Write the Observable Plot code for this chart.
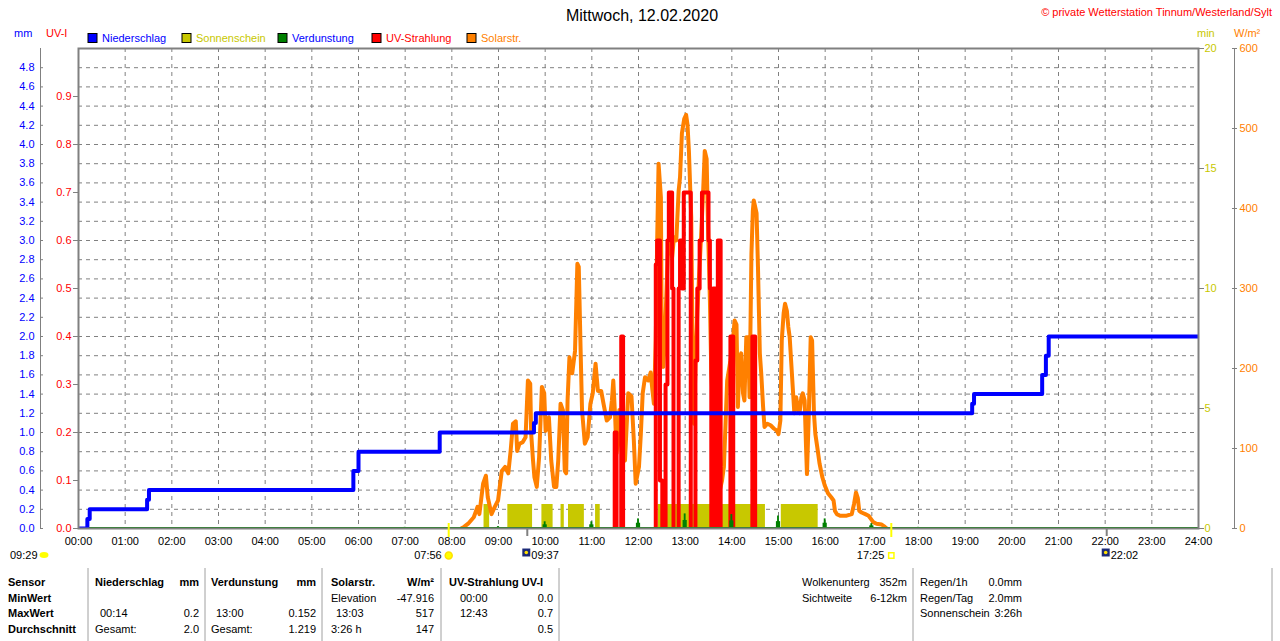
<!DOCTYPE html>
<html><head><meta charset="utf-8">
<script src="https://cdn.jsdelivr.net/npm/d3@7"></script>
<script src="https://cdn.jsdelivr.net/npm/@observablehq/plot@0.6"></script>
<style>
body{margin:0;background:#fff;}
svg text{font-family:"Liberation Sans",Arial,sans-serif;}
</style></head><body><div id="chart"></div>
<script>
// ---------------- data ----------------
const titleText = "Mittwoch, 12.02.2020";
const copyrightText = "© private Wetterstation Tinnum/Westerland/Sylt";

const hourTicks = d3.range(0, 25);
const mmTicks = [0,0.2,0.4,0.6,0.8,1.0,1.2,1.4,1.6,1.8,2.0,2.2,2.4,2.6,2.8,3.0,3.2,3.4,3.6,3.8,4.0,4.2,4.4,4.6,4.8];
const uvTicks = [0,0.1,0.2,0.3,0.4,0.5,0.6,0.7,0.8,0.9];
const minTicks = [0,5,10,15,20];
const wTicks = [0,100,200,300,400,500,600];

// Niederschlag (mm, cumulative, step)
const precipTime = [0, 0.19, 0.24, 1.47, 1.51, 5.89, 6.00, 7.74, 9.76, 9.80, 19.15, 19.19, 20.65, 20.73, 20.79, 24];
const precipMM   = [0, 0.1,  0.2,  0.3,  0.4,  0.6,  0.8,  1.0,  1.1,  1.2,  1.3,   1.4,   1.6,   1.8,   2.0,   2.0];

// Sonnenschein (min)
const sunStart = [8.69, 9.20, 9.93, 10.34, 10.50, 11.08, 11.67, 12.42, 15.06];
const sunEnd   = [8.81, 9.73, 10.17, 10.41, 10.84, 11.18, 11.71, 14.72, 15.85];
const sunMin   = [1, 1, 1, 1, 1, 1, 1, 1, 1];

// Verdunstung (mm per hour)
const evapHour = [1,2,3,4,5,6,7,8,9,10,11,12,13,14,15,16,17,18,19,20,21,22,23];
const evapMM   = [0.01,0.01,0.01,0.01,0.01,0.01,0.012,0.01,0.02,0.07,0.07,0.10,0.152,0.145,0.13,0.10,0.05,0.012,0.01,0.01,0.01,0.01,0.01];

// UV-Strahlung (UV-I, step)
const uvTime = [0, 11.49, 11.53, 11.63, 11.67, 12.37, 12.40, 12.46, 12.51, 12.58, 12.62, 12.65, 12.72, 12.75, 12.86, 12.89, 12.93, 12.97, 13.12, 13.22, 13.26, 13.31, 13.36, 13.50, 13.53, 13.56, 13.60, 13.65, 13.70, 13.76, 13.97, 14.03, 14.44, 14.50, 24];
const uvVal  = [0, 0.2,   0,     0.4,   0,     0.55,  0.6,   0.1,   0,     0.3,   0.6,   0.7,   0.5,   0,     0.5,   0.6,   0.5,   0.7,   0,     0.35,  0.5,   0.6,   0.7,   0.6,   0.5,   0,     0.5,   0,     0.6,   0,     0.4,   0,     0.4,   0,     0];

// Solarstrahlung (W/m²)
const solarTime = [8.20,8.26,8.35,8.47,8.55,8.59,8.67,8.73,8.77,8.85,8.92,8.99,9.07,9.14,9.21,9.26,9.31,9.37,9.40,9.45,9.52,9.58,9.63,9.68,9.70,9.74,9.77,9.82,9.87,9.93,9.98,10.01,10.08,10.13,10.19,10.24,10.28,10.33,10.38,10.42,10.45,10.48,10.52,10.58,10.64,10.69,10.72,10.76,10.79,10.85,10.91,10.97,11.02,11.08,11.13,11.20,11.25,11.32,11.39,11.43,11.46,11.50,11.53,11.57,11.59,11.64,11.71,11.78,11.85,11.90,11.94,12.01,12.05,12.09,12.14,12.21,12.26,12.30,12.33,12.37,12.40,12.43,12.48,12.50,12.53,12.56,12.61,12.64,12.68,12.72,12.76,12.81,12.86,12.89,12.93,12.98,13.02,13.05,13.08,13.13,13.16,13.19,13.22,13.26,13.29,13.34,13.38,13.42,13.46,13.49,13.53,13.56,13.60,13.64,13.69,13.74,13.79,13.83,13.90,13.97,14.01,14.06,14.10,14.13,14.17,14.20,14.24,14.27,14.31,14.35,14.38,14.42,14.45,14.47,14.53,14.56,14.60,14.63,14.67,14.70,14.76,14.83,14.90,14.97,15.00,15.04,15.07,15.11,15.14,15.18,15.21,15.24,15.27,15.31,15.34,15.38,15.41,15.45,15.49,15.52,15.56,15.59,15.61,15.65,15.69,15.72,15.76,15.79,15.83,15.88,15.94,15.99,16.06,16.13,16.18,16.21,16.25,16.32,16.46,16.57,16.62,16.66,16.70,16.73,16.78,16.86,16.93,16.98,17.03,17.10,17.21,17.28,17.32];
const solarW    = [0,2,6,14,27,18,56,66,39,18,27,35,72,77,69,97,131,134,97,106,108,114,185,181,119,85,64,52,89,177,169,122,139,85,52,52,85,156,148,72,69,160,214,194,222,331,327,222,148,106,114,156,169,206,172,172,156,135,139,160,185,139,94,118,148,97,85,169,165,110,56,77,118,169,189,185,195,172,156,235,360,456,414,210,202,231,314,360,360,339,364,360,422,439,494,512,517,505,472,389,222,131,202,269,306,364,414,472,462,377,285,194,148,94,60,47,60,77,185,210,227,260,255,152,214,219,169,160,239,239,164,343,397,410,394,327,219,194,152,127,131,129,125,122,118,135,235,269,281,272,252,239,210,172,144,164,152,144,164,169,160,102,68,144,239,235,144,118,102,81,64,54,44,39,35,22,18,16,16,18,31,45,38,22,20,18,16,12,8,6,5,2,0];

// Markers below the time axis
const sunMarkTime = [7.933, 17.417];
const sunMarkLabel = ["07:56", "17:25"];
const moonMarkTime = [9.617, 22.033];
const moonMarkLabel = ["09:37", "22:02"];

// Legend
const legendLabels = ["Niederschlag", "Sonnenschein", "Verdunstung", "UV-Strahlung", "Solarstr."];
const legendColors = ["#0000FF", "#C8C800", "#008000", "#FF0000", "#FF8000"];
const legendTextColors = ["#0000FF", "#C8C800", "#0000FF", "#FF0000", "#FF8000"];

// Table
const tableHeader = ["Sensor", "Niederschlag", "mm", "Verdunstung", "mm", "Solarstr.", "W/m²", "UV-Strahlung UV-I"];
const tableRowLabels = ["MinWert", "MaxWert", "Durchschnitt"];
const precipCells = [["", ""], ["00:14", "0.2"], ["Gesamt:", "2.0"]];
const evapCells   = [["", ""], ["13:00", "0.152"], ["Gesamt:", "1.219"]];
const solarCells  = [["Elevation", "-47.916"], ["13:03", "517"], ["3:26 h", "147"]];
const uvCells     = [["00:00", "0.0"], ["12:43", "0.7"], ["", "0.5"]];
const extraLeft   = [["Wolkenunterg", "352m"], ["Sichtweite", "6-12km"]];
const extraRight  = [["Regen/1h", "0.0mm"], ["Regen/Tag", "2.0mm"], ["Sonnenschein", "3:26h"]];

// ---------------- build ----------------
const uvToMm = v => v * 5;     // UV-I 0..1 -> 0..5
const minToMm = m => m / 4;    // min 0..20 -> 0..5
const wToMm = w => w / 120;    // W/m² 0..600 -> 0..5

const precip = precipTime.map((t, i) => ({t, v: precipMM[i]}));
const sun = sunStart.map((s, i) => ({s, e: sunEnd[i], v: sunMin[i]}));
const evap = evapHour.map((h, i) => ({h, v: evapMM[i]}));
const solar = solarTime.map((t, i) => ({t, w: solarW[i]}));
const sunMarks = sunMarkTime.map((t, i) => ({t, label: sunMarkLabel[i]}));
const moonMarks = moonMarkTime.map((t, i) => ({t, label: moonMarkLabel[i]}));

// split the UV step series into separate pulses (so nothing runs along the baseline)
const uvSegs = [];
{
  let g = null, gid = 0;
  uvTime.forEach((t, i) => {
    const v = uvVal[i];
    if (v > 0) {
      if (g === null) { g = gid++; uvSegs.push({t, v: 0, g}); }
      uvSegs.push({t, v, g});
    } else if (g !== null) {
      uvSegs.push({t, v: 0, g});
      g = null;
    }
  });
}

const gray = "#808080";
const px = 5 / 480; // mm per pixel

const plot = Plot.plot({
  width: 1280, height: 641,
  marginLeft: 78, marginRight: 82, marginTop: 48, marginBottom: 113,
  x: {domain: [0, 24], label: null},
  y: {domain: [0, 5], label: null},
  style: {fontFamily: "Liberation Sans, Arial, sans-serif", fontSize: "11px", background: "white", color: "black"},
  marks: [
    Plot.gridY(mmTicks.filter(d => d > 0), {stroke: gray, strokeOpacity: 1, strokeDasharray: "4,4"}),
    Plot.gridX(hourTicks.filter(d => d > 0 && d < 24), {stroke: gray, strokeOpacity: 1, strokeDasharray: "4,4"}),
    Plot.rect(sun, {x1: "s", x2: "e", y1: 0, y2: d => minToMm(d.v), fill: "#C8C800", inset: 0}),
    Plot.line(solar, {x: "t", y: d => wToMm(d.w), stroke: "#FF8000", strokeWidth: 4, clip: true}),
    Plot.line(uvSegs, {x: "t", y: d => uvToMm(d.v), z: "g", curve: "step-after", stroke: "#FF0000", strokeWidth: 4, clip: true}),
    Plot.ruleY([0], {stroke: "#008000", strokeWidth: 2, dy: -0.5}),
    Plot.rect(evap, {x1: d => d.h - 0.045, x2: d => d.h + 0.045, y1: 0, y2: d => d.v * 0.55, fill: "#008000", inset: 0}),
    Plot.rect(evap, {x1: d => d.h - 0.02, x2: d => d.h + 0.02, y1: 0, y2: "v", fill: "#008000", inset: 0}),
    Plot.line(precip, {x: "t", y: "v", curve: "step-after", stroke: "#0000FF", strokeWidth: 4, clip: true}),
    Plot.frame({stroke: gray, strokeWidth: 2}),
    // left mm axis
    Plot.ruleX([0], {y1: 0, y2: 5, dx: -38, stroke: gray}),
    Plot.axisY(mmTicks, {anchor: "left", dx: -35, tickSize: 3, tickPadding: 6, stroke: gray, fill: "#0000FF", tickFormat: d => d.toFixed(1), label: null}),
    // UV axis
    Plot.axisY(uvTicks.map(uvToMm), {anchor: "left", tickSize: 5, tickPadding: 2, stroke: gray, fill: "#FF0000", tickFormat: d => (d / 5).toFixed(1), label: null}),
    // min axis (right)
    Plot.axisY(minTicks.map(minToMm), {anchor: "right", tickSize: 5, tickPadding: 1, stroke: gray, fill: "#C8C800", tickFormat: d => String(Math.round(d * 4)), label: null}),
    // W/m² axis (right)
    Plot.ruleX([24], {y1: 0, y2: 5, dx: 36, stroke: gray}),
    Plot.axisY(wTicks.map(wToMm), {anchor: "right", dx: 33, tickSize: 5, tickPadding: 3, stroke: gray, fill: "#FF8000", tickFormat: d => String(Math.round(d * 120)), label: null}),
    // time axis
    Plot.axisX(hourTicks, {anchor: "bottom", tickSize: 0, tickPadding: 9, fill: "black", tickFormat: d => String(d).padStart(2, "0") + ":00", label: null}),
    // sunrise / sunset markers
    Plot.ruleX(sunMarks, {x: "t", y1: -9 * px, y2: 5 * px, stroke: "#FFFF00", strokeWidth: 2}),
    Plot.ruleX(moonMarks, {x: "t", y1: -8 * px, y2: 0, stroke: gray, strokeWidth: 2}),
    Plot.text(sunMarks, {x: "t", y: 0, dy: 27, text: "label", textAnchor: "end", dx: -7, fill: "black"}),
    Plot.dot(sunMarks.slice(0, 1), {x: "t", y: 0, dy: 27, r: 3.5, fill: "#FFFF00", stroke: "#FFE000"}),
    Plot.dot(sunMarks.slice(1), {x: "t", y: 0, dy: 27, r: 3, symbol: "square", fill: "white", stroke: "#FFFF00"}),
    Plot.dot(moonMarks, {x: "t", y: 0, dy: 24, dx: -1, r: 4.5, symbol: "square", fill: "#1c2a78"}),
    Plot.dot(moonMarks, {x: "t", y: 0, dy: 24, dx: -1, r: 1.8, fill: "#FFE000"}),
    Plot.text(moonMarks, {x: "t", y: 0, dy: 27, dx: 4, text: "label", textAnchor: "start", fill: "black"})
  ]
});

document.getElementById("chart").appendChild(plot);

const svg = d3.select(plot);
const font = "Liberation Sans, Arial, sans-serif";
function txt(x, y, s, opts = {}) {
  return svg.append("text")
    .attr("x", x).attr("y", y)
    .attr("dy", "0.35em")
    .attr("font-family", font)
    .attr("font-size", opts.size || 11)
    .attr("font-weight", opts.bold ? "bold" : null)
    .attr("text-anchor", opts.anchor || "start")
    .attr("fill", opts.color || "black")
    .text(s);
}

// title and copyright
txt(642, 15, titleText, {size: 16, anchor: "middle"});
txt(1272, 12, copyrightText, {size: 11, anchor: "end", color: "#FF0000"});

// axis units
txt(14, 33, "mm", {color: "#0000FF"});
txt(46, 33, "UV-I", {color: "#FF0000"});
txt(1197, 33, "min", {color: "#C8C800"});
txt(1234, 33, "W/m²", {color: "#FF8000"});

// legend
const legendX = [88, 182, 278, 372, 467];
legendLabels.forEach((l, i) => {
  svg.append("rect").attr("x", legendX[i]).attr("y", 33.5).attr("width", 9).attr("height", 9)
    .attr("fill", legendColors[i]).attr("stroke", "black").attr("stroke-width", 1);
  txt(legendX[i] + 14, 38, l, {color: legendTextColors[i]});
});

// off-axis marker at left
txt(10, 555, "09:29");
svg.append("ellipse").attr("cx", 44).attr("cy", 555).attr("rx", 4.5).attr("ry", 3).attr("fill", "#FFFF00");

// table
const rowY = [582, 598, 613, 629];
[88, 205, 322, 441, 559, 913, 1272].forEach(x => {
  svg.append("line").attr("x1", x).attr("x2", x).attr("y1", 568).attr("y2", 641)
    .attr("stroke", "#a0a0a0").attr("stroke-width", 1);
});
const hdrPos = [[8, "start"], [95, "start"], [199, "end"], [211, "start"], [316, "end"], [331, "start"], [434, "end"], [449, "start"]];
tableHeader.forEach((h, i) => txt(hdrPos[i][0], rowY[0], h, {bold: true, anchor: hdrPos[i][1]}));
tableRowLabels.forEach((r, i) => txt(8, rowY[i + 1], r, {bold: true}));
const groups = [[precipCells, 95, 199], [evapCells, 211, 316], [solarCells, 331, 434], [uvCells, 455, 553]];
groups.forEach(([cells, lx, rx]) => {
  cells.forEach((c, i) => {
    const isTime = /^\d\d:\d\d$/.test(c[0]);
    if (c[0]) txt(lx + (isTime ? 5 : 0), rowY[i + 1], c[0]);
    if (c[1]) txt(rx, rowY[i + 1], c[1], {anchor: "end"});
  });
});
extraLeft.forEach((c, i) => {
  txt(802, rowY[i], c[0]);
  txt(907, rowY[i], c[1], {anchor: "end"});
});
extraRight.forEach((c, i) => {
  txt(920, rowY[i], c[0]);
  txt(1022, rowY[i], c[1], {anchor: "end"});
});
</script>
</body></html>
